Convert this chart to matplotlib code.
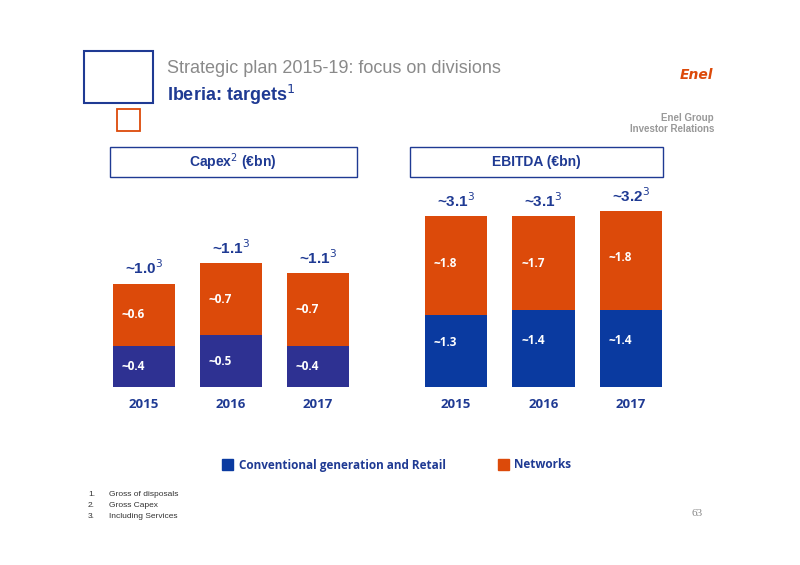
import matplotlib
matplotlib.use("Agg")
import matplotlib.pyplot as plt
from matplotlib.patches import Rectangle

years = ["2015", "2016", "2017"]
capex_conv = [0.4, 0.5, 0.4]
capex_net = [0.6, 0.7, 0.7]
capex_total = ["~1.0", "~1.1", "~1.1"]
ebitda_conv = [1.3, 1.4, 1.4]
ebitda_net = [1.8, 1.7, 1.8]
ebitda_total = ["~3.1", "~3.1", "~3.2"]

ORANGE = "#DC4A0A"
BLUE_L = "#2E3192"
BLUE_R = "#0A3AA0"
W, H = 800, 565
fig = plt.figure(figsize=(8, 5.65), dpi=100)

def fx(x): return x / W
def fy(y): return 1 - y / H

def rect(x0, y0, x1, y1, **kw):
    fig.add_artist(Rectangle((fx(x0), fy(y1)), fx(x1 - x0), (y1 - y0) / H, transform=fig.transFigure, **kw))

rect(84, 51, 153, 103, fill=False, ec="#1F3A93", lw=1.5)
rect(117, 109, 140, 131, fill=False, ec=ORANGE, lw=1.3)
fig.text(fx(167), fy(68), "Strategic plan 2015-19: focus on divisions", color="#8A8A8A", fontsize=13, va="center", family="Liberation Sans")
fig.text(fx(167), fy(95), "Iberia: targets$^{1}$", color="#1F3A93", fontsize=13, fontweight="bold", va="center", family="Liberation Sans")
fig.text(fx(713), fy(75), "Enel", color=ORANGE, fontsize=10, fontweight="bold", style="italic", ha="right", va="center")
fig.text(fx(714), fy(118), "Enel Group", color="#999999", fontsize=7, ha="right", va="center", fontweight="bold", family="Liberation Sans")
fig.text(fx(714), fy(129), "Investor Relations", color="#999999", fontsize=7, ha="right", va="center", fontweight="bold", family="Liberation Sans")

rect(110, 147, 357, 177, fill=False, ec="#1F3A93", lw=1)
fig.text(fx(233), fy(162), "Capex$^{2}$ (€bn)", ha="center", va="center", fontsize=10, fontweight="bold", color="#1F3A93", family="Liberation Sans")
rect(410, 147, 663, 177, fill=False, ec="#1F3A93", lw=1)
fig.text(fx(536), fy(162), "EBITDA (€bn)", ha="center", va="center", fontsize=10, fontweight="bold", color="#1F3A93", family="Liberation Sans")

def panel(x0, x1, scale_units, conv, net, totals, blue, ybot=387, ytop=180):
    ax = fig.add_axes([fx(x0), fy(ybot), fx(x1 - x0), (ybot - ytop) / H])
    xs = range(len(years))
    ax.bar(xs, conv, width=0.71, color=blue)
    ax.bar(xs, net, bottom=conv, width=0.71, color=ORANGE)
    ax.set_xlim(-0.5, 2.5)
    ax.set_ylim(0, scale_units)
    big = scale_units > 3
    for i in xs:
        yb = conv[i] / 2 + (0.15 if big else 0)
        yo = conv[i] + net[i] - 0.85 if big else conv[i] + net[i] / 2
        ax.text(i - 0.12, yb, f"~{conv[i]:.1f}", color="white", fontsize=8.5, fontweight="bold", va="center", ha="center", family="Open Sans")
        ax.text(i - 0.12, yo, f"~{net[i]:.1f}", color="white", fontsize=8.5, fontweight="bold", va="center", ha="center", family="Open Sans")
        ax.text(i, conv[i] + net[i] + scale_units * 0.03, totals[i] + "$^{3}$", color="#1F3A93", fontsize=11, fontweight="bold", ha="center", va="bottom", family="Liberation Sans")
    ax.set_xticks(list(xs))
    ax.set_xticklabels(years, fontsize=9.5, fontweight="bold", color="#1F3A93", family="Open Sans")
    ax.tick_params(length=0, pad=8)
    ax.set_yticks([])
    for s in ax.spines.values():
        s.set_visible(False)

panel(100.5, 361.5, 2.0, capex_conv, capex_net, capex_total, BLUE_L)
panel(412.5, 674.5, 3.76, ebitda_conv, ebitda_net, ebitda_total, BLUE_R)

rect(222, 459, 233, 470, color=BLUE_R)
fig.text(fx(239), fy(465), "Conventional generation and Retail", fontsize=8.5, fontweight="bold", color="#1F3A93", va="center", family="Open Sans")
rect(498, 459, 509, 470, color=ORANGE)
fig.text(fx(514), fy(465), "Networks", fontsize=8.5, fontweight="bold", color="#1F3A93", va="center", family="Open Sans")

for i, t in enumerate(["Gross of disposals", "Gross Capex", "Including Services"]):
    y = 495 + i * 10.5
    fig.text(fx(88), fy(y), f"{i+1}.", fontsize=6, color="#333333", va="center", family="Liberation Sans")
    fig.text(fx(109), fy(y), t, fontsize=6, color="#333333", va="center", family="Liberation Sans")
fig.text(fx(703), fy(513), "63", fontsize=8, color="#888888", ha="right", va="center", family="Liberation Serif")

fig.savefig("out.png", dpi=100)
